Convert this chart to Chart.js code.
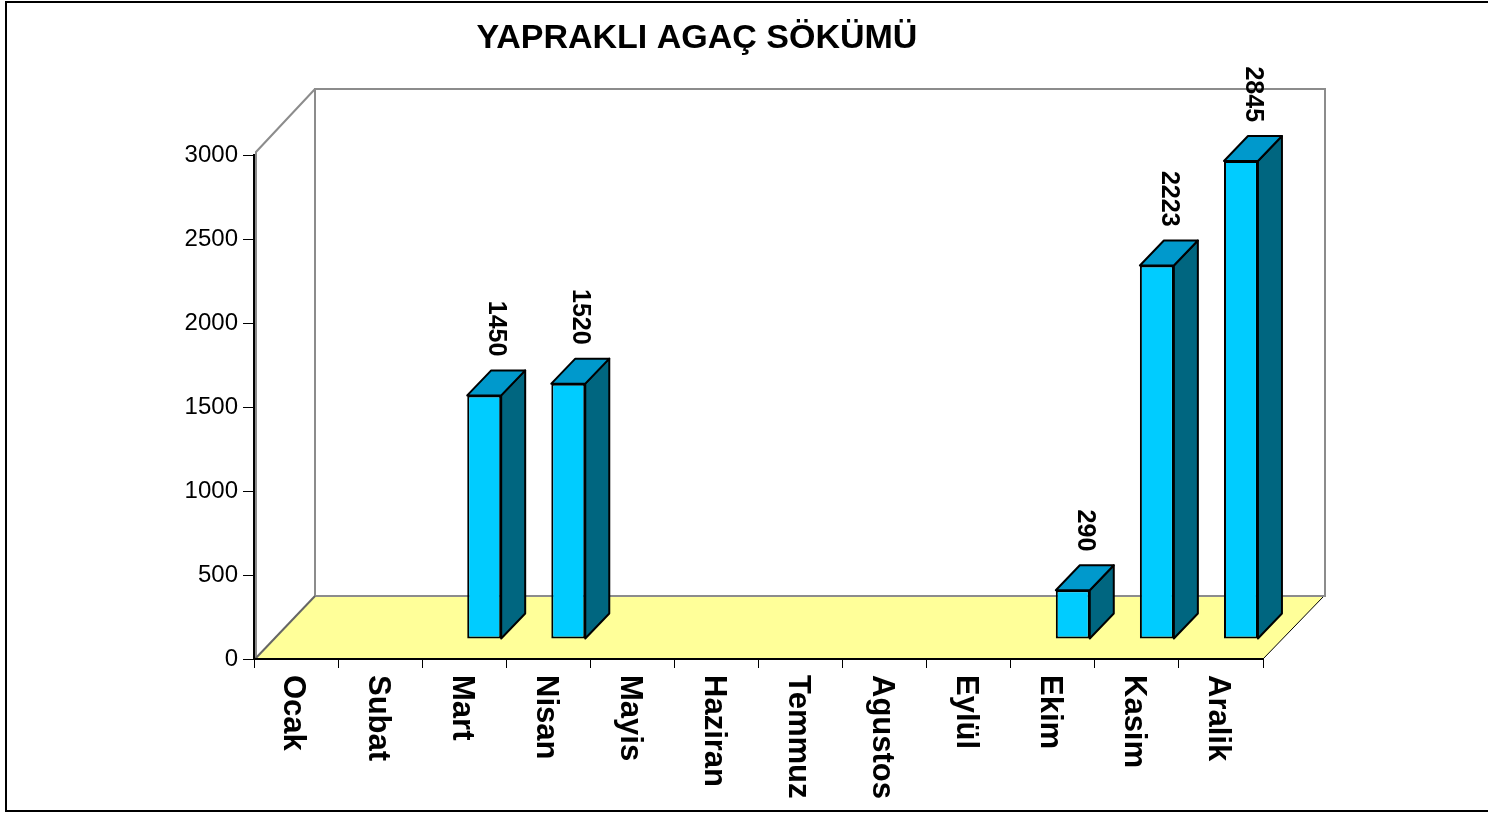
<!DOCTYPE html>
<html>
<head>
<meta charset="utf-8">
<script src="https://cdn.jsdelivr.net/npm/chart.js@4.4.1/dist/chart.umd.min.js"></script>
<style>
html,body{margin:0;padding:0;background:#fff;overflow:hidden;}
#wrap{width:1488px;height:814px;position:relative;}
canvas{display:block;}
</style>
</head>
<body>
<div id="wrap"><canvas id="c"></canvas></div>
<script>
// ---- data ----
const chartTitle = 'YAPRAKLI AGAÇ SÖKÜMÜ';
const categories = ['Ocak','Subat','Mart','Nisan','Mayis','Haziran','Temmuz','Agustos','Eylül','Ekim','Kasim','Aralik'];
const values = [null, null, 1450, 1520, null, null, null, null, null, 290, 2223, 2845];
const yMin = 0;
const yMax = 3000;
const yStep = 500;

// ---- style ----
const FONT = "'Liberation Sans', Arial, Helvetica, sans-serif";
const COL_FRONT = '#00CCFF';
const COL_TOP = '#0099CC';
const COL_SIDE = '#006680';
const COL_FLOOR = '#FFFF99';
const COL_WALL = '#8C8C8C';
const ROW_DX = 20, ROW_DY = 20;     // position of the bar row inside the depth
const BAR_DX = 24, BAR_DY = 25;     // bar depth
const DEPTH_DX = 61, DEPTH_DY = 63; // full floor depth

const scene3d = {
  id: 'scene3d',
  beforeDraw(chart) {
    const {ctx, chartArea: a} = chart;
    ctx.save();
    ctx.fillStyle = '#fff';
    ctx.fillRect(0, 0, chart.width, chart.height);
    // outer frame
    ctx.strokeStyle = '#000';
    ctx.lineWidth = 2;
    ctx.beginPath();
    ctx.moveTo(1500, 2); ctx.lineTo(6, 2); ctx.lineTo(6, 811); ctx.lineTo(1500, 811);
    ctx.stroke();
    // title
    ctx.fillStyle = '#000';
    ctx.font = 'bold 34px ' + FONT;
    ctx.textAlign = 'center';
    ctx.textBaseline = 'middle';
    ctx.fillText(chartTitle, 697, 39);

    const wallTop = a.top - 3;
    // floor
    ctx.fillStyle = COL_FLOOR;
    ctx.beginPath();
    ctx.moveTo(a.left, a.bottom);
    ctx.lineTo(a.right, a.bottom);
    ctx.lineTo(a.right + DEPTH_DX, a.bottom - DEPTH_DY);
    ctx.lineTo(a.left + DEPTH_DX, a.bottom - DEPTH_DY);
    ctx.closePath();
    ctx.fill();
    // back wall
    ctx.strokeStyle = COL_WALL;
    ctx.lineWidth = 2;
    ctx.strokeRect(a.left + DEPTH_DX, wallTop - DEPTH_DY, a.right - a.left + 1, a.bottom - wallTop);
    // left wall
    ctx.beginPath();
    ctx.moveTo(a.left + 2, a.bottom);
    ctx.lineTo(a.left + 2, wallTop);
    ctx.lineTo(a.left + DEPTH_DX, wallTop - DEPTH_DY);
    ctx.stroke();
    ctx.strokeStyle = '#666';
    ctx.beginPath();
    ctx.moveTo(a.left + 1, a.bottom);
    ctx.lineTo(a.left + DEPTH_DX, a.bottom - DEPTH_DY);
    ctx.stroke();
    // floor right edge
    ctx.strokeStyle = '#000';
    ctx.lineWidth = 1;
    ctx.beginPath();
    ctx.moveTo(a.right, a.bottom);
    ctx.lineTo(a.right + DEPTH_DX - 1, a.bottom - DEPTH_DY + 1);
    ctx.stroke();
    ctx.restore();
  },
  beforeDatasetsDraw(chart) {
    chart.ctx.save();
    chart.ctx.translate(ROW_DX, -ROW_DY);
  },
  afterDatasetsDraw(chart) {
    const ctx = chart.ctx;
    ctx.restore();
    ctx.save();
    const meta = chart.getDatasetMeta(0);
    meta.data.forEach((bar, i) => {
      const v = values[i];
      if (v == null) return;
      const {x, y, base, width} = bar.getProps(['x', 'y', 'base', 'width'], true);
      const l = x - width / 2 + ROW_DX, r = x + width / 2 + ROW_DX;
      const t = y - ROW_DY, b = base - ROW_DY;
      ctx.lineWidth = 2;
      ctx.strokeStyle = '#000';
      ctx.lineJoin = 'round';
      // side face
      ctx.fillStyle = COL_SIDE;
      ctx.beginPath();
      ctx.moveTo(r, t); ctx.lineTo(r + BAR_DX, t - BAR_DY); ctx.lineTo(r + BAR_DX, b - BAR_DY); ctx.lineTo(r, b);
      ctx.closePath(); ctx.fill(); ctx.stroke();
      // top face
      ctx.fillStyle = COL_TOP;
      ctx.beginPath();
      ctx.moveTo(l, t); ctx.lineTo(l + BAR_DX, t - BAR_DY); ctx.lineTo(r + BAR_DX, t - BAR_DY); ctx.lineTo(r, t);
      ctx.closePath(); ctx.fill(); ctx.stroke();
      // value label
      ctx.save();
      ctx.translate(x + ROW_DX + BAR_DX / 2, t - BAR_DY - 14);
      ctx.rotate(Math.PI / 2);
      ctx.font = 'bold 25px ' + FONT;
      ctx.fillStyle = '#000';
      ctx.textAlign = 'right';
      ctx.textBaseline = 'middle';
      ctx.fillText(String(v), 0, 0);
      ctx.restore();
    });
    ctx.restore();
  },
  afterDraw(chart) {
    const {ctx, chartArea: a} = chart;
    const xs = chart.scales.x;
    ctx.save();
    ctx.font = 'bold 31px ' + FONT;
    ctx.fillStyle = '#000';
    ctx.textAlign = 'left';
    ctx.textBaseline = 'middle';
    categories.forEach((c, i) => {
      const px = xs.getPixelForValue(i);
      ctx.save();
      ctx.translate(px - 3, a.bottom + 16);
      ctx.rotate(Math.PI / 2);
      ctx.fillText(c, 0, 0);
      ctx.restore();
    });
    ctx.restore();
  }
};

new Chart(document.getElementById('c'), {
  type: 'bar',
  data: {
    labels: categories,
    datasets: [{
      data: values,
      backgroundColor: COL_FRONT,
      borderColor: '#000',
      borderWidth: 2,
      borderSkipped: false,
      barPercentage: 0.404,
      categoryPercentage: 1,
      clip: false
    }]
  },
  options: {
    responsive: true,
    maintainAspectRatio: false,
    animation: false,
    devicePixelRatio: 1,
    layout: { padding: { left: 0, right: 225, top: 155, bottom: 0 } },
    plugins: {
      legend: { display: false },
      title: { display: false },
      tooltip: { enabled: false }
    },
    scales: {
      x: {
        grid: { display: true, drawOnChartArea: false, drawTicks: true, tickLength: 9, color: '#000', lineWidth: 1, offset: true },
        border: { display: true, color: '#000', width: 2 },
        ticks: { display: false },
        afterFit: s => { s.height = 155; }
      },
      y: {
        min: yMin,
        max: yMax,
        ticks: { stepSize: yStep, font: { family: FONT, size: 24 }, color: '#000', padding: 5, callback: v => String(v) },
        grid: { drawOnChartArea: false, tickLength: 11, color: '#000', lineWidth: 1 },
        border: { display: true, color: '#000', width: 2 },
        afterFit: s => { s.width = 254; }
      }
    }
  },
  plugins: [scene3d]
});
</script>
</body>
</html>
